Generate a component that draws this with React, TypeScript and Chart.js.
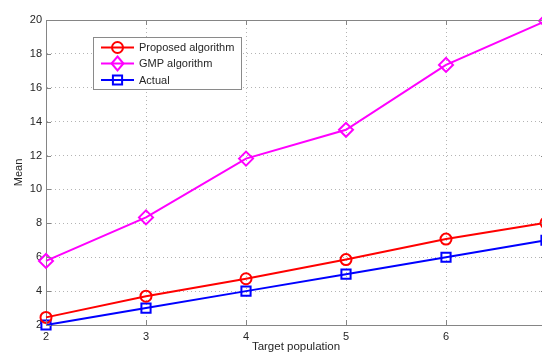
import React, { useEffect, useRef } from "react";
import { Chart, registerables } from "chart.js";

Chart.register(...registerables);

const xValues = [2, 3, 4, 5, 6, 7];
const proposedValues = [2.45, 3.7, 4.73, 5.86, 7.07, 8.03];
const gmpValues = [5.78, 8.35, 11.82, 13.52, 17.35, 19.95];
const actualValues = [2, 3, 4, 5, 6, 7];
const seriesNames = ["Proposed algorithm", "GMP algorithm", "Actual"];
const seriesColors = ["#ff0000", "#ff00ff", "#0000ff"];
const seriesMarkers = ["circle", "rectRot", "rect"];
const markerRadius = [5.5, 7, 6.5];
const yTickValues = [2, 4, 6, 8, 10, 12, 14, 16, 18, 20];
const xTitle = "Target population";
const yTitle = "Mean";

const FONT = "'Liberation Sans', Arial, Helvetica, sans-serif";
const TEXT = "#262626";
const AXIS = "#858585";

function drawMarker(ctx: CanvasRenderingContext2D, style: string, r: number, x: number, y: number, color: string) {
  ctx.save();
  ctx.strokeStyle = color;
  ctx.lineWidth = 2;
  ctx.beginPath();
  if (style === "circle") {
    ctx.arc(x, y, r, 0, Math.PI * 2);
  } else if (style === "rectRot") {
    ctx.moveTo(x, y - r);
    ctx.lineTo(x + r * 0.85, y);
    ctx.lineTo(x, y + r);
    ctx.lineTo(x - r * 0.85, y);
    ctx.closePath();
  } else {
    const s = r * Math.SQRT1_2;
    ctx.rect(x - s, y - s, 2 * s, 2 * s);
  }
  ctx.stroke();
  ctx.restore();
}

const matlabPlugin = {
  id: "matlabDecor",
  afterDatasetsDraw(chart: any) {
    const { ctx, chartArea } = chart;
    const { left, right, top, bottom } = chartArea;
    const xs = chart.scales.x;
    const ys = chart.scales.y;
    ctx.save();
    ctx.strokeStyle = AXIS;
    ctx.lineWidth = 1;
    ctx.setLineDash([]);
    ctx.beginPath();
    ctx.moveTo(left + 0.5, top + 0.5);
    ctx.lineTo(right + 0.5, top + 0.5);
    ctx.lineTo(right + 0.5, bottom + 0.5);
    ctx.stroke();
    ctx.beginPath();
    for (const v of xValues) {
      const px = Math.round(xs.getPixelForValue(v)) + 0.5;
      ctx.moveTo(px, bottom);
      ctx.lineTo(px, bottom - 5);
      ctx.moveTo(px, top);
      ctx.lineTo(px, top + 5);
    }
    for (const v of yTickValues) {
      const py = Math.round(ys.getPixelForValue(v)) + 0.5;
      ctx.moveTo(left, py);
      ctx.lineTo(left + 5, py);
      ctx.moveTo(right, py);
      ctx.lineTo(right - 5, py);
    }
    ctx.stroke();

    const lx = 93.5, ly = 37.5, lw = 148, lh = 52;
    ctx.fillStyle = "#ffffff";
    ctx.fillRect(lx, ly, lw, lh);
    ctx.strokeStyle = "#8a8a8a";
    ctx.strokeRect(lx, ly, lw, lh);
    ctx.font = `11px ${FONT}`;
    ctx.textBaseline = "middle";
    ctx.textAlign = "left";
    const rowsY = [47.5, 63.5, 80];
    chart.data.datasets.forEach((ds: any, i: number) => {
      const y = rowsY[i];
      ctx.strokeStyle = ds.borderColor;
      ctx.lineWidth = 2;
      ctx.beginPath();
      ctx.moveTo(101, y);
      ctx.lineTo(134, y);
      ctx.stroke();
      drawMarker(ctx, ds.pointStyle, ds.pointRadius, 117.5, y, ds.borderColor);
      ctx.fillStyle = TEXT;
      ctx.fillText(ds.label, 139, y + 0.5);
    });
    ctx.restore();
  },
};

export default function App() {
  const ref = useRef<HTMLCanvasElement | null>(null);
  useEffect(() => {
    if (!ref.current) return;
    const allSeries = [proposedValues, gmpValues, actualValues];
    const chart = new Chart(ref.current, {
      type: "line",
      data: {
        datasets: allSeries.map((vals, i) => ({
          label: seriesNames[i],
          data: xValues.map((x, j) => ({ x, y: vals[j] })),
          borderColor: seriesColors[i],
          backgroundColor: "rgba(0,0,0,0)",
          borderWidth: 2,
          pointStyle: seriesMarkers[i] as any,
          pointRadius: markerRadius[i],
          pointBorderWidth: 2,
          pointBorderColor: seriesColors[i],
          pointBackgroundColor: "rgba(0,0,0,0)",
          tension: 0,
          clip: false as any,
        })),
      },
      options: {
        responsive: false,
        animation: false,
        layout: { padding: { top: 20, right: 54, left: 0, bottom: 0 } },
        plugins: { legend: { display: false }, tooltip: { enabled: false } },
        scales: {
          x: {
            type: "linear",
            min: 2,
            max: 7,
            afterFit: (s: any) => { s.height = 29; },
            afterBuildTicks: (s: any) => { s.ticks = xValues.map((v) => ({ value: v })); },
            ticks: {
              color: TEXT,
              padding: 5,
              font: { family: FONT, size: 11 },
              maxRotation: 0,
              callback: (v: any) => String(v),
            },
            grid: { color: "#b4b4b4", drawTicks: false, lineWidth: 1 },
            border: { display: true, color: AXIS, width: 1, dash: [1, 3] },
            title: {
              display: true,
              text: xTitle,
              color: TEXT,
              font: { family: FONT, size: 11.5 },
              padding: { top: 0, bottom: 0 },
            },
          },
          y: {
            type: "linear",
            min: 2,
            max: 20,
            afterFit: (s: any) => { s.width = 46; },
            afterBuildTicks: (s: any) => { s.ticks = yTickValues.map((v) => ({ value: v })); },
            ticks: {
              color: TEXT,
              padding: 4,
              font: { family: FONT, size: 11 },
              callback: (v: any) => String(v),
            },
            grid: { color: "#b4b4b4", drawTicks: false, lineWidth: 1 },
            border: { display: true, color: AXIS, width: 1, dash: [1, 3] },
            title: {
              display: true,
              text: yTitle,
              color: TEXT,
              font: { family: FONT, size: 11 },
              padding: { top: 12, bottom: 0 },
            },
          },
        },
      },
      plugins: [matlabPlugin],
    });
    return () => chart.destroy();
  }, []);
  return (
    <div style={{ position: "fixed", left: 0, top: 0, width: 542, height: 354, overflow: "hidden", background: "#fff" }}>
      <canvas ref={ref} width={600} height={354} style={{ display: "block", width: 600, height: 354 }} />
    </div>
  );
}
